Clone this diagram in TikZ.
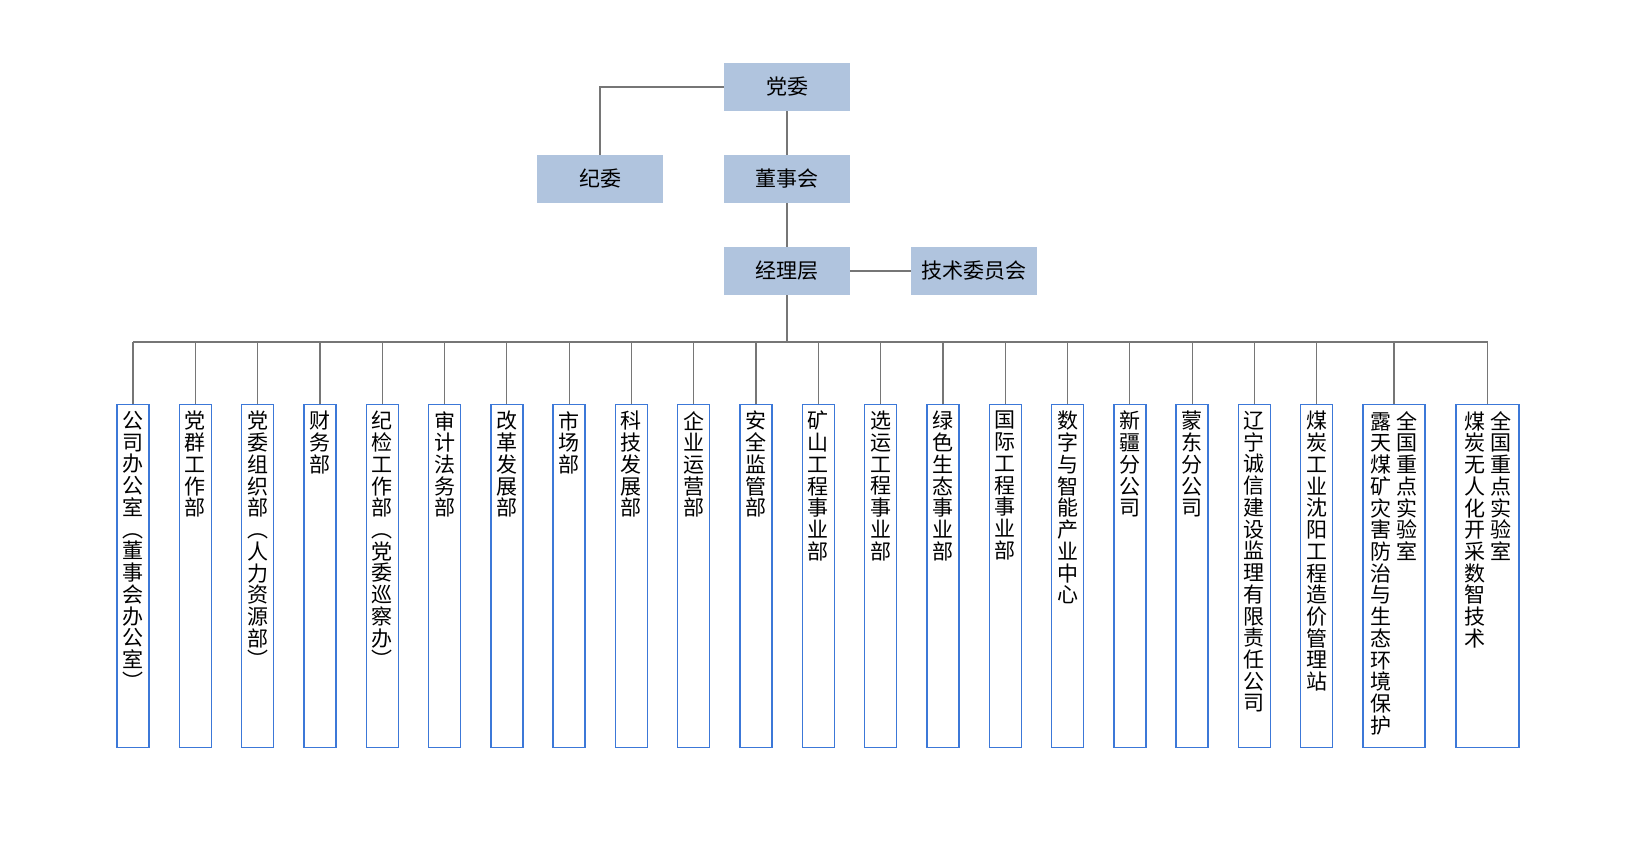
\documentclass[tikz,border=0pt]{standalone}
\usepackage{fontspec}
\setmainfont{Noto Sans CJK SC}
\definecolor{topfill}{RGB}{176,196,222}
\definecolor{deptline}{RGB}{60,120,216}
\definecolor{linkgray}{RGB}{118,118,118}
\newdimen\px \px=0.5pt
% vertical text: one character per line
\def\vcaux#1{\ifx\relax#1\else\hbox to 1em{\hss#1\hss}\expandafter\vcaux\fi}
\newcommand\vcol[1]{\vtop{\baselineskip=1.035em\lineskiplimit=-\maxdimen\expandafter\vcaux#1\relax}}
\newcommand\dept[1]{\vbox to 330\px{\hbox{\vcol{#1}}\vfil}}
\newcommand\deptii[2]{\vbox to 330\px{\hbox{\vcol{#1}\hskip5\px\vcol{#2}}\vfil}}
\begin{document}
\begin{tikzpicture}[x=0.5pt,y=-0.5pt,
    lead/.style={fill=topfill, minimum width=63pt, minimum height=24pt, inner sep=0pt, font=\fontsize{10.5pt}{12pt}\selectfont},
    dept/.style={draw=deptline, line width=0.7pt, anchor=north, minimum width=16pt, minimum height=171.5pt, inner xsep=0pt, inner ysep=3.25pt, font=\fontsize{10.5pt}{12pt}\selectfont},
    link/.style={draw=linkgray, line width=0.6pt}]

    \useasboundingbox (0,0) rectangle (1627,858);

    \node[lead] (dw) at (787,87) {党委};
    \node[lead] (jw) at (600,179) {纪委};
    \node[lead] (dsh) at (787,179) {董事会};
    \node[lead] (jlc) at (787,271) {经理层};
    \node[lead] (jswyh) at (974,271) {技术委员会};
    \coordinate (bus) at (787,342);

    \draw[link] (dw.west) -| (jw.north);
    \draw[link] (dw) -- (dsh);
    \draw[link] (dsh) -- (jlc);
    \draw[link] (jlc) -- (jswyh);
    \draw[link] (jlc) -- (bus);

    \foreach \i/\t in {1/公司办公室︵董事会办公室︶, 2/党群工作部, 3/党委组织部︵人力资源部︶, 4/财务部,
        5/纪检工作部︵党委巡察办︶, 6/审计法务部, 7/改革发展部, 8/市场部, 9/科技发展部, 10/企业运营部,
        11/安全监管部, 12/矿山工程事业部, 13/选运工程事业部, 14/绿色生态事业部, 15/国际工程事业部,
        16/数字与智能产业中心, 17/新疆分公司, 18/蒙东分公司, 19/辽宁诚信建设监理有限责任公司,
        20/煤炭工业沈阳工程造价管理站}
        \node[dept] (b\i) at ({133+62.3*(\i-1)},404) {\dept{\t}};
    \node[dept, minimum width=31pt] (b21) at (1394,404) {\deptii{露天煤矿灾害防治与生态环境保护}{全国重点实验室}};
    \node[dept, minimum width=31.5pt] (b22) at (1487.5,404) {\deptii{煤炭无人化开采数智技术}{全国重点实验室}};

    \foreach \i in {1,...,22} \draw[link] (b\i.north) -- (b\i.north |- bus);
    \draw[link] (b1.north |- bus) -- (b22.north |- bus);

\end{tikzpicture}
\end{document}
